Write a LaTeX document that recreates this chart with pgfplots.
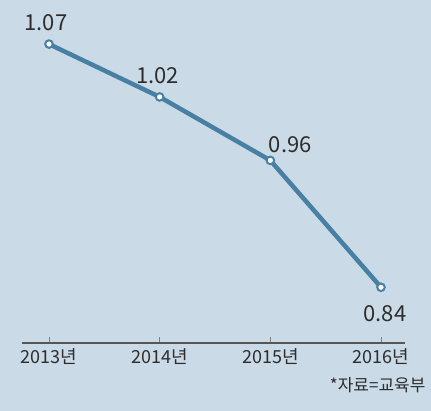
\documentclass[border=0pt]{standalone}
\usepackage{pgfplots}
\pgfplotsset{compat=1.18}
\usepackage{fontspec}
\setmainfont{Noto Sans CJK KR}
\definecolor{bg}{RGB}{202,219,231}
\definecolor{ln}{RGB}{72,128,163}
\definecolor{txt}{RGB}{45,45,45}
\begin{document}
\begin{tikzpicture}[x=1pt,y=1pt]
\fill[bg] (0,0) rectangle (431,411);
\useasboundingbox (0,0) rectangle (431,411);
\begin{axis}[
  at={(22pt,68pt)}, anchor=south west,
  scale only axis, width=383pt, height=343pt,
  xmin=2012.756, xmax=2016.217,
  ymin=0.7873, ymax=1.1117,
  axis x line=bottom, axis y line=none,
  axis line style={draw=txt!80, line width=1.2pt, -},
  xtick={2013,2014,2015,2016},
  xticklabels={2013년,2014년,2015년,2016년},
  tick align=inside, major tick length=6pt,
  tick style={draw=txt!60, line width=0.8pt},
  xticklabel style={font=\fontsize{18}{20}\selectfont, text=txt, yshift=-2pt},
  ytick=\empty,
  clip=false,
]
\addplot[ln, line width=4.5pt, mark=*, mark size=3.8pt,
  mark options={fill=white, draw=ln, line width=2pt},
  nodes near coords, point meta=explicit symbolic,
  every node near coord/.style={font=\fontsize{22}{24}\selectfont, text=txt},
  visualization depends on={value \thisrow{dx} \as \dx},
  visualization depends on={value \thisrow{dy} \as \dy},
  every node near coord/.append style={xshift=\dx pt, yshift=\dy pt, anchor=center},
] table[x=x, y=y, meta=lab] {
x y lab dx dy
2013 1.07 1.07 -3 21
2014 1.02 1.02 -2 21
2015 0.96 0.96 20 16
2016 0.84 0.84 4 -26
};
\end{axis}
\node[anchor=east, font=\fontsize{17}{19}\selectfont, text=txt] at (429,26) {*자료=교육부};
\end{tikzpicture}
\end{document}
